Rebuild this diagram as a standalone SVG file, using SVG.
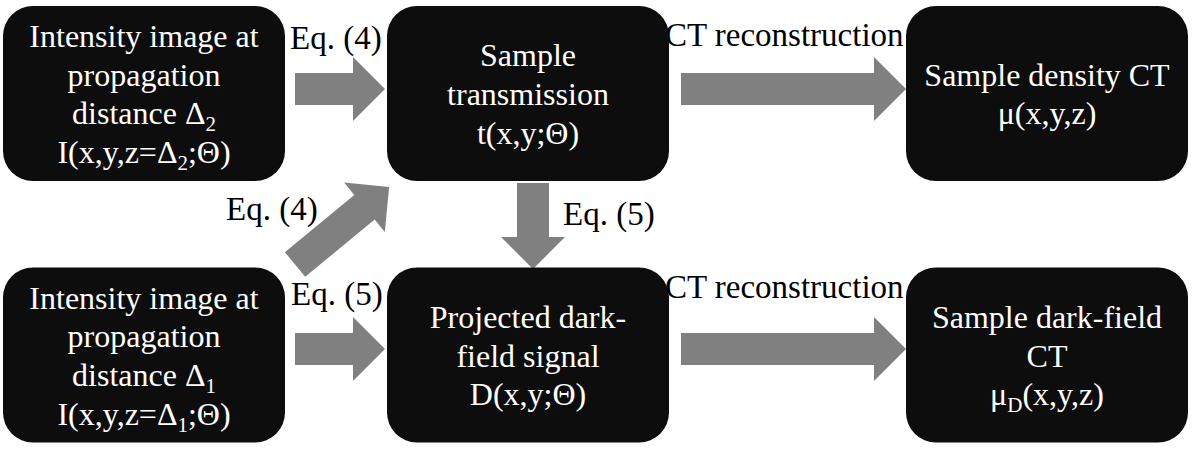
<svg xmlns="http://www.w3.org/2000/svg" width="1196" height="452" viewBox="0 0 1196 452">
  <style>
    .node rect { fill: #0d0d0d; }
    .nt { font-family: "Liberation Serif", "Times New Roman", serif; font-size: 32px; fill: #ffffff; text-anchor: middle; }
    .lbl { font-family: "Liberation Serif", "Times New Roman", serif; font-size: 33px; fill: #000000; }
    .sub { font-size: 21px; }
    .arrow { fill: #808080; }
  </style>
  <rect x="0" y="0" width="1196" height="452" fill="#ffffff"/>

  <g id="connectors">
    <path class="arrow" transform="translate(295,89)" d="M0,-16 H58 V-32 L90,0 L58,32 V16 H0 Z"/>
    <path class="arrow" transform="translate(681,89)" d="M0,-16 H193 V-32 L225,0 L193,32 V16 H0 Z"/>
    <path class="arrow" transform="translate(295,349)" d="M0,-16 H58 V-32 L90,0 L58,32 V16 H0 Z"/>
    <path class="arrow" transform="translate(681,349)" d="M0,-16 H193 V-32 L225,0 L193,32 V16 H0 Z"/>
    <path class="arrow" transform="translate(533,183) rotate(90)" d="M0,-16 H54 V-32 L86,0 L54,32 V16 H0 Z"/>
    <path class="arrow" transform="translate(295,264.5) rotate(-39.5)" d="M0,-16 H90 V-32 L122,0 L90,32 V16 H0 Z"/>
    <text class="lbl" x="290" y="49">Eq. (4)</text>
    <text class="lbl" x="665" y="46">CT reconstruction</text>
    <text class="lbl" x="226" y="220">Eq. (4)</text>
    <text class="lbl" x="563" y="225">Eq. (5)</text>
    <text class="lbl" x="291" y="305">Eq. (5)</text>
    <text class="lbl" x="665" y="298">CT reconstruction</text>
  </g>

  <g id="node-intensity2" class="node">
    <rect x="3" y="6" width="282" height="175" rx="30" ry="30"/>
    <text class="nt" x="144" y="47">Intensity image at</text>
    <text class="nt" x="144" y="85.7">propagation</text>
    <text class="nt" x="144" y="124.4">distance Δ<tspan class="sub" dy="7">2</tspan></text>
    <text class="nt" x="144" y="163.1">I(x,y,z=Δ<tspan class="sub" dy="7">2</tspan><tspan dy="-7">;Θ)</tspan></text>
  </g>

  <g id="node-transmission" class="node">
    <rect x="387" y="6" width="282" height="175" rx="30" ry="30"/>
    <text class="nt" x="528" y="66.4">Sample</text>
    <text class="nt" x="528" y="105">transmission</text>
    <text class="nt" x="528" y="143.8">t(x,y;Θ)</text>
  </g>

  <g id="node-density-ct" class="node">
    <rect x="906" y="6" width="282" height="175" rx="30" ry="30"/>
    <text class="nt" x="1047" y="85.7">Sample density CT</text>
    <text class="nt" x="1047" y="124.4">μ(x,y,z)</text>
  </g>

  <g id="node-intensity1" class="node">
    <rect x="3" y="267.5" width="282" height="175" rx="30" ry="30"/>
    <text class="nt" x="144" y="308.5">Intensity image at</text>
    <text class="nt" x="144" y="347.2">propagation</text>
    <text class="nt" x="144" y="385.9">distance Δ<tspan class="sub" dy="7">1</tspan></text>
    <text class="nt" x="144" y="424.6">I(x,y,z=Δ<tspan class="sub" dy="7">1</tspan><tspan dy="-7">;Θ)</tspan></text>
  </g>

  <g id="node-darkfield" class="node">
    <rect x="387" y="267.5" width="282" height="175" rx="30" ry="30"/>
    <text class="nt" x="528" y="327.9">Projected dark-</text>
    <text class="nt" x="528" y="366.6">field signal</text>
    <text class="nt" x="528" y="405.3">D(x,y;Θ)</text>
  </g>

  <g id="node-darkfield-ct" class="node">
    <rect x="906" y="267.5" width="282" height="175" rx="30" ry="30"/>
    <text class="nt" x="1047" y="327.9">Sample dark-field</text>
    <text class="nt" x="1047" y="366.6">CT</text>
    <text class="nt" x="1047" y="405.3">μ<tspan class="sub" dy="7">D</tspan><tspan dy="-7">(x,y,z)</tspan></text>
  </g>
</svg>
